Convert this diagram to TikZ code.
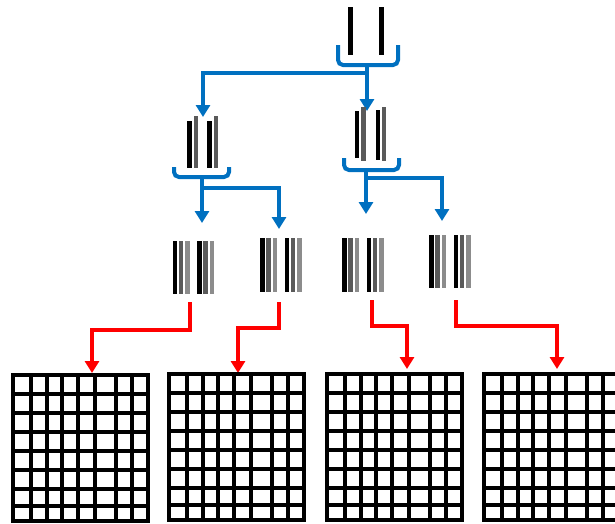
\documentclass[tikz,border=0pt]{standalone}
\usetikzlibrary{arrows.meta}
\definecolor{myblue}{RGB}{0,112,192}
\definecolor{dgray}{RGB}{90,90,90}
\definecolor{lgray}{RGB}{140,140,140}
\tikzset{
  bluearrow/.style={draw=myblue, line width=3.2pt, -{Triangle[length=12pt,width=14pt]}},
  redarrow/.style={draw=red, line width=3.2pt, -{Triangle[length=12pt,width=14pt]}},
  bracket/.style={draw=myblue, line width=4pt, rounded corners=5pt},
  gridline/.style={draw=black, line width=4pt},
  barblack/.style={fill=black},
  bardark/.style={fill=dgray},
  barlight/.style={fill=lgray}
}
\newcommand{\gridat}[2]{%
  \foreach \gx in {18,34,49,65,82,103,119}{\draw[gridline] (#1+\gx,#2) -- (#1+\gx,#2+146);}
  \foreach \gy in {19,38,57,76,95,114,131}{\draw[gridline] (#1,#2+\gy) -- (#1+135,#2+\gy);}
  \draw[gridline] (#1,#2) rectangle (#1+135,#2+146);
}
\newcommand{\tripleat}[3]{% x, ytop, ybottom
  \fill[barblack] (#1,#2) rectangle (#1+4.5,#3);
  \fill[bardark] (#1+6,#2) rectangle (#1+10.5,#3);
  \fill[barlight] (#1+12.5,#2) rectangle (#1+17,#3);
  \fill[barblack] (#1+24.5,#2) rectangle (#1+29,#3);
  \fill[bardark] (#1+30.5,#2) rectangle (#1+35,#3);
  \fill[barlight] (#1+37,#2) rectangle (#1+41.5,#3);
}
\begin{document}
\begin{tikzpicture}[x=1pt,y=-1pt]
\useasboundingbox (0,0) rectangle (615,523);
\clip (0,0) rectangle (615,523);
% level 1
\fill[barblack] (348,7) rectangle (352.5,55);
\fill[barblack] (379,7) rectangle (383.5,55);
\draw[bracket] (338,45) -- (338,65) -- (398,65) -- (398,45);
\coordinate (s1) at (367,65);
\coordinate (j1) at (367,73);
\coordinate (t2a) at (203,117);
\coordinate (t2b) at (367,111);
\draw[myblue, line width=3.2pt] (s1) -- (j1);
\draw[bluearrow] (j1) -| (t2a);
\draw[bluearrow] (j1) -- (t2b);
% level 2 left
\fill[barblack] (187,121) rectangle (191.5,168);
\fill[dgray] (193.5,116) rectangle (198,168);
\fill[barblack] (207,121) rectangle (211.5,168);
\fill[dgray] (213.5,116) rectangle (218,168);
\draw[bracket] (174,167) -- (174,177) -- (229,177) -- (229,167);
\coordinate (s2a) at (202,177);
\coordinate (j2a) at (202,188);
\coordinate (t3a) at (202,223);
\coordinate (t3b) at (279,229);
\draw[myblue, line width=3.2pt] (s2a) -- (j2a);
\draw[bluearrow] (j2a) -- (t3a);
\draw[bluearrow] (j2a) -| (t3b);
% level 2 right
\fill[barblack] (354.5,111) rectangle (359,158);
\fill[dgray] (361,107) rectangle (365.5,161);
\fill[barblack] (375.5,110) rectangle (380,160);
\fill[dgray] (381.5,107) rectangle (386,161);
\draw[bracket] (344,158) -- (344,170) -- (399,170) -- (399,158);
\coordinate (s2b) at (366,170);
\coordinate (j2b) at (366,178);
\coordinate (t3c) at (366,214);
\coordinate (t3d) at (442,221);
\draw[bluearrow] (s2b) -- (t3c);
\draw[bluearrow] (j2b) -| (t3d);
% level 3
\tripleat{172.5}{241}{294}
\tripleat{260}{238}{292}
\tripleat{342}{238}{292}
\tripleat{429}{235}{288}
\coordinate (r1) at (190,302);
\coordinate (r2) at (279,302);
\coordinate (r3) at (372,300);
\coordinate (r4) at (456,300);
\coordinate (g1t) at (92,373);
\coordinate (g2t) at (238,373);
\coordinate (g3t) at (407,369);
\coordinate (g4t) at (557,369);
\draw[redarrow] (r1) -- (190,330) -| (g1t);
\draw[redarrow] (r2) -- (279,328) -| (g2t);
\draw[redarrow] (r3) -- (372,326) -| (g3t);
\draw[redarrow] (r4) -- (456,326) -| (g4t);
% grids
\gridat{13}{375}
\gridat{169}{374}
\gridat{327}{374}
\gridat{484}{374}
\end{tikzpicture}
\end{document}
